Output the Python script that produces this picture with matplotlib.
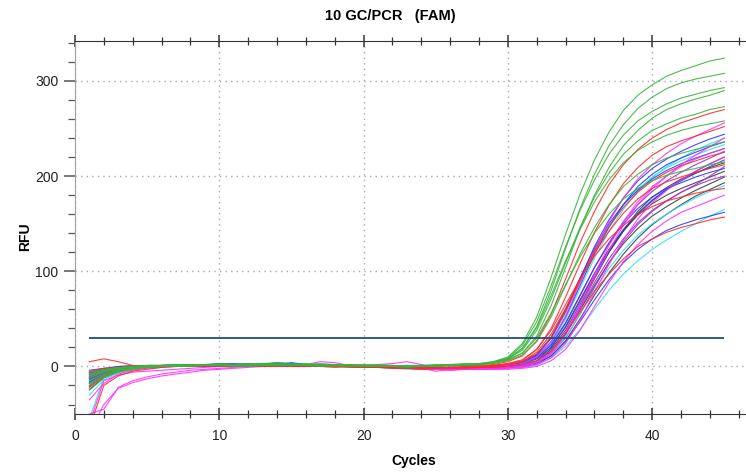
import matplotlib
matplotlib.use('Agg')
import matplotlib.pyplot as plt
from matplotlib.ticker import MultipleLocator

plt.rcParams['font.family'] = ['Liberation Sans', 'DejaVu Sans']

# ciclos y umbral
cycles = list(range(1, 46))
threshold = 30

# curvas de amplificacion (RFU por ciclo)
green_rfu = [
    [-6, -3, -1, 0, 1, 1, 1, 2, 1, 2, 2, 1, 2, 3, 2, 1, 1, 2, 1, 0, 1, 1, 0, 1, 2, 2, 3, 3,
     5, 10, 24, 52, 94, 139, 181, 217, 246, 269, 285, 296, 305, 311, 316, 321, 324],
    [-12, -6, -3, -1, 0, 0, 0, 1, 2, 1, 0, 1, 1, 2, 1, 2, 3, 2, 1, 1, 0, 0, 1, 0, 1, 2, 2, 2,
     4, 8, 19, 42, 80, 124, 166, 202, 232, 254, 271, 283, 292, 298, 302, 305, 308],
    [-25, -12, -6, -3, -1, 0, 2, 1, 1, 3, 2, 2, 3, 4, 2, 1, 2, 1, 2, 1, 0, 1, 0, 1, 1, 2, 2, 3,
     5, 9, 22, 47, 85, 126, 164, 196, 223, 243, 258, 268, 276, 282, 286, 290, 293],
    [-15, -8, -4, -2, -1, 0, 1, 0, 1, 1, 2, 3, 2, 1, 1, 2, 1, 0, 1, 2, 1, 0, 1, 1, 0, 1, 2, 2,
     4, 7, 14, 32, 64, 104, 145, 180, 209, 232, 248, 261, 270, 276, 281, 285, 290],
    [-20, -10, -5, -2, -1, 0, 0, 1, 1, 2, 1, 1, 2, 2, 3, 2, 1, 1, 0, 1, 2, 1, 0, 0, 1, 2, 1, 2,
     4, 8, 17, 38, 71, 109, 146, 178, 203, 223, 237, 248, 255, 261, 265, 270, 273],
    [-8, -4, -2, -1, 0, 1, 1, 2, 2, 1, 1, 2, 3, 2, 2, 1, 0, 1, 2, 1, 1, 0, -1, 0, 1, 1, 2, 2,
     4, 8, 19, 41, 75, 111, 144, 173, 196, 214, 227, 236, 243, 248, 252, 255, 258],
    [-18, -9, -4, -2, 0, 1, 1, 1, 2, 2, 1, 0, 1, 2, 2, 3, 2, 1, 1, 0, 0, 1, 1, 0, 0, 1, 1, 2,
     3, 6, 12, 26, 52, 85, 118, 146, 170, 189, 202, 212, 219, 224, 228, 232, 236],
    [-10, -5, -2, 0, 1, 1, 2, 1, 1, 2, 2, 2, 1, 1, 2, 1, 1, 2, 2, 1, 0, 0, 1, 1, 1, 2, 2, 2,
     4, 7, 14, 30, 56, 86, 115, 140, 160, 176, 187, 195, 201, 205, 208, 212, 215],
]

red_rfu = [
    [5, 8, 5, 1, 0, 1, 1, 0, 1, 2, 1, 1, 0, 1, 2, 1, 0, -1, 0, 1, 0, -1, -1, 0, 0, 1, 1, 1,
     2, 5, 11, 27, 55, 92, 130, 163, 191, 212, 228, 240, 249, 256, 261, 266, 270],
    [-65, -20, -10, -5, -3, -1, 0, 1, 1, 0, 1, 2, 1, 1, 0, 1, 1, 0, 0, -1, 0, -1, -1, -2, -1, -1, 0, 0,
     1, 3, 6, 18, 40, 73, 108, 141, 169, 192, 209, 222, 231, 237, 242, 247, 252],
    [-12, -6, -3, -1, 0, 0, 1, 1, 0, 1, 1, 2, 2, 1, 1, 0, 1, 1, 0, 0, -1, -1, -2, -1, -2, -2, -1, -1,
     0, 2, 5, 15, 34, 61, 91, 119, 142, 161, 176, 187, 194, 199, 204, 208, 212],
    [-5, -2, -1, 0, 1, 1, 0, 0, 1, 1, 0, 1, 2, 1, 0, 0, 1, 0, -1, -1, 0, 0, -1, -2, -2, -1, -1, 0,
     1, 3, 7, 18, 38, 65, 92, 116, 134, 148, 160, 168, 174, 178, 182, 185, 187],
    [-22, -11, -5, -2, -1, 0, 0, 1, 1, 1, 2, 1, 0, 0, 1, 1, 2, 1, 0, -1, -1, -2, -2, -3, -2, -2, -2, -1,
     -1, 0, 2, 6, 16, 35, 57, 79, 97, 113, 126, 134, 141, 146, 150, 154, 157],
    [-9, -4, -2, 0, 0, 1, 1, 2, 1, 0, 0, 1, 1, 2, 1, 0, 0, 1, 1, 0, -1, 0, -1, -1, -2, -1, -1, 0,
     1, 2, 5, 13, 30, 58, 90, 121, 147, 167, 183, 195, 204, 211, 216, 221, 225],
]

blue_rfu = [
    [-14, -7, -3, -1, 0, 1, 1, 2, 2, 3, 3, 2, 2, 4, 3, 2, 1, 1, 0, 1, 0, -1, -1, -2, -1, -2, -1, -1,
     0, 1, 4, 12, 30, 58, 92, 126, 154, 177, 195, 208, 218, 226, 233, 239, 244],
    [-7, -3, -1, 0, 1, 1, 0, 1, 1, 2, 1, 1, 1, 2, 4, 2, 1, 0, 1, 1, 0, 0, -1, -2, -2, -1, -2, -2,
     -1, 0, 3, 11, 26, 52, 85, 118, 146, 170, 189, 202, 212, 219, 225, 231, 236],
    [-18, -9, -4, -2, -1, 0, 1, 1, 2, 1, 2, 1, 2, 2, 1, 1, 1, 0, 1, 0, 0, -1, -2, -1, -1, -1, -2, -1,
     0, 1, 5, 13, 31, 60, 93, 124, 150, 170, 185, 197, 206, 213, 219, 224, 229],
    [-4, -2, 0, 1, 1, 1, 2, 1, 0, 1, 2, 2, 1, 1, 2, 2, 1, 0, 0, 1, 0, -1, -2, -2, -3, -2, -2, -2,
     -2, -1, 1, 6, 20, 41, 68, 97, 122, 144, 161, 175, 186, 195, 203, 210, 217],
    [-11, -5, -2, -1, 0, 0, 0, 1, 2, 2, 1, 1, 2, 3, 2, 1, 1, 1, 0, 0, -1, -1, 0, -1, -2, -2, -3, -2,
     -2, -1, 0, 3, 11, 26, 47, 70, 91, 109, 123, 134, 143, 149, 154, 158, 162],
    [-16, -8, -4, -2, 0, 0, 1, 1, 1, 2, 2, 3, 2, 2, 1, 1, 2, 1, 0, 0, 0, -1, -1, -1, -2, -1, -1, -1,
     0, 0, 3, 9, 23, 46, 75, 104, 129, 150, 166, 178, 187, 193, 199, 204, 208],
]

black_rfu = [
    [-24, -12, -6, -3, -1, 0, 0, 0, 1, 1, 1, 2, 2, 1, 1, 2, 1, 1, 0, 0, -1, -1, -2, -2, -2, -3, -2, -2,
     -2, -1, 0, 5, 18, 38, 65, 94, 120, 142, 160, 174, 186, 196, 205, 213, 220],
    [-13, -6, -3, -1, 0, 0, 1, 1, 0, 1, 1, 1, 2, 2, 1, 0, 1, 1, 1, 0, 0, -1, -1, -2, -2, -2, -2, -3,
     -2, -1, 0, 3, 15, 34, 62, 92, 120, 143, 163, 178, 188, 197, 203, 209, 214],
    [-9, -5, -2, -1, 0, 1, 1, 1, 2, 1, 1, 1, 1, 2, 2, 1, 0, 0, 1, 1, 0, -1, -1, -1, -2, -2, -1, -2,
     -1, 0, 1, 5, 16, 35, 59, 85, 109, 129, 145, 158, 168, 177, 185, 192, 199],
    [-20, -10, -5, -2, -1, 0, 0, 1, 1, 1, 2, 1, 1, 1, 2, 1, 1, 0, 0, -1, -1, -1, -2, -3, -2, -2, -3, -2,
     -2, -1, 0, 3, 11, 27, 50, 75, 98, 118, 135, 149, 160, 170, 179, 186, 193],
    [-6, -3, -1, 0, 0, 1, 1, 2, 1, 1, 0, 1, 1, 1, 2, 1, 1, 1, 0, 0, 0, 0, -1, -1, -1, -2, -1, -1,
     0, 0, 2, 8, 20, 42, 70, 98, 123, 143, 159, 171, 180, 187, 193, 199, 205],
]

cyan_rfu = [
    [-55, -12, -6, -3, -1, 0, 1, 1, 1, 2, 1, 2, 2, 1, 2, 1, 1, 0, 1, 0, -1, -1, -1, -3, -3, -2, -1, -2,
     -1, 0, 2, 10, 24, 50, 82, 114, 142, 165, 184, 198, 210, 219, 227, 234, 240],
    [-10, -5, -3, -1, 0, 0, 0, 1, 1, 1, 2, 2, 1, 1, 1, 1, 2, 1, 0, 0, -1, 0, -1, -1, -2, -1, -1, -1,
     0, 1, 4, 12, 29, 56, 89, 121, 148, 170, 186, 199, 209, 216, 222, 228, 233],
    [-30, -14, -7, -3, -1, 0, 0, 0, 1, 1, 1, 1, 2, 1, 1, 1, 0, 1, 0, -1, -1, -2, -3, -2, -2, -3, -3, -2,
     -2, -2, -1, 1, 9, 21, 39, 60, 80, 97, 111, 123, 133, 142, 150, 158, 165],
    [-8, -4, -2, -1, 0, 0, 1, 1, 2, 1, 1, 0, 1, 2, 1, 2, 1, 0, 1, 0, 0, -1, -1, -2, -1, -2, -2, -2,
     -1, 0, 1, 5, 14, 31, 55, 80, 103, 122, 138, 150, 160, 169, 177, 184, 190],
]

magenta_rfu = [
    [-70, -40, -23, -17, -13, -10, -8, -6, -4, -3, -2, -1, 0, 1, 1, 2, 5, 4, 1, 0, 0, 1, -1, -2, -5, -3, -2, -1,
     0, 1, 3, 10, 26, 53, 88, 122, 152, 177, 197, 212, 224, 234, 242, 249, 256],
    [-60, -15, -9, -6, -5, -4, -3, -2, -1, 0, 0, 1, 1, 0, 1, 1, 1, 0, 0, 1, 2, 3, 5, 2, -1, -3, -2, -2,
     -2, -1, 0, 3, 14, 33, 61, 93, 122, 148, 170, 187, 200, 212, 222, 231, 240],
    [-50, -45, -22, -15, -11, -8, -6, -4, -3, -2, -1, 0, 0, 1, 1, 0, 1, 0, 0, -1, -1, -2, -2, -3, -3, -4, -3, -3,
     -3, -3, -2, 0, 6, 18, 38, 63, 88, 110, 128, 142, 153, 162, 168, 174, 180],
    [-12, -6, -3, -1, 0, 0, 1, 1, 2, 1, 1, 2, 3, 2, 1, 1, 0, 0, 1, 0, 0, -1, -2, -2, -3, -4, -3, -3,
     -3, -2, -1, 2, 9, 24, 48, 78, 107, 133, 155, 172, 185, 196, 205, 213, 220],
    [-35, -18, -8, -4, -2, -1, 0, 1, 1, 2, 2, 1, 1, 0, 1, 1, 0, 1, 1, 0, 0, -1, -1, -2, -2, -2, -3, -2,
     -2, -1, 1, 5, 15, 36, 65, 97, 127, 152, 173, 189, 200, 210, 218, 224, 229],
]

purple_rfu = [
    [-17, -8, -4, -2, -1, 0, 1, 1, 1, 2, 1, 1, 2, 1, 1, 1, 1, 0, 0, 0, -1, -1, -1, -2, -2, -2, -2, -1,
     -1, 0, 1, 5, 15, 34, 60, 88, 113, 134, 151, 164, 174, 183, 191, 200, 210],
    [-7, -3, -1, 0, 0, 1, 1, 0, 1, 1, 2, 2, 2, 1, 0, 1, 1, 1, 0, -1, 0, -1, -1, -2, -3, -2, -2, -2,
     -2, -1, 0, 4, 13, 30, 55, 83, 109, 131, 149, 163, 174, 183, 190, 196, 200],
    [-21, -10, -5, -2, -1, 0, 0, 1, 1, 1, 2, 2, 1, 2, 2, 1, 0, 1, 1, 0, 0, 0, -1, -1, -2, -1, -1, -1,
     0, 1, 3, 9, 22, 45, 74, 104, 130, 152, 170, 184, 195, 204, 212, 219, 226],
]

groups = [
    (black_rfu, '#3c3c3c'),
    (purple_rfu, '#9932cc'),
    (cyan_rfu, '#30e0f0'),
    (blue_rfu, '#2a3cff'),
    (magenta_rfu, '#ff30ff'),
    (red_rfu, '#ff2a2a'),
    (green_rfu, '#3cb43c'),
]

fig = plt.figure(figsize=(7.46, 4.73), dpi=100)
ax = fig.add_axes([0.1005, 0.1247, 0.8995, 0.7886])

for curves, col in groups:
    for rfu in curves:
        ax.plot(cycles[:len(rfu)], rfu, color=col, lw=0.8, alpha=0.9)

# linea de umbral
ax.hlines(threshold, cycles[0], cycles[-1], color='#1f4e79', lw=1.3, zorder=5)

ax.set_xlim(0, 46.5)
ax.set_ylim(-50, 342)
ax.xaxis.set_major_locator(MultipleLocator(10))
ax.xaxis.set_minor_locator(MultipleLocator(2))
ax.yaxis.set_major_locator(MultipleLocator(100))
ax.yaxis.set_minor_locator(MultipleLocator(20))
ax.grid(True, which='major', linestyle=(0, (1, 3)), color='#a8a8a8', lw=1)

ax.spines['right'].set_visible(False)
ax.spines['left'].set_color('#a0a0a0')
ax.spines['bottom'].set_color('#333333')
ax.spines['top'].set_color('#333333')
ax.tick_params(axis='x', which='both', direction='inout', top=True, colors='#333333')
ax.tick_params(axis='x', which='major', length=9, width=1.1, pad=6, labelsize=10)
ax.tick_params(axis='x', which='minor', length=6, width=0.9)
ax.tick_params(axis='y', which='both', direction='out', colors='#555555')
ax.tick_params(axis='y', which='major', length=8, width=1.1, pad=4, labelsize=10)
ax.tick_params(axis='y', which='minor', length=5, width=0.9)
for lab in ax.get_xticklabels() + ax.get_yticklabels():
    lab.set_color('#222222')

fig.text(390 / 746, 1 - 16 / 473, '10 GC/PCR   (FAM)', ha='center', va='center',
         fontsize=10.5, weight='bold')
fig.text(414 / 746, 1 - 461 / 473, 'Cycles', ha='center', va='center', fontsize=10, weight='bold')
fig.text(25 / 746, 1 - 237 / 473, 'RFU', ha='center', va='center', rotation=90,
         fontsize=10, weight='bold')

fig.savefig('out.png', dpi=100)
